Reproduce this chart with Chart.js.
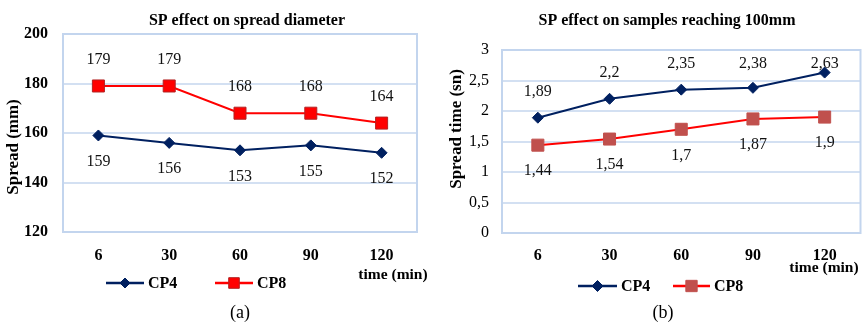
<!DOCTYPE html>
<html>
<head>
<meta charset="utf-8">
<script src="https://cdn.jsdelivr.net/npm/chart.js@4.4.0/dist/chart.umd.min.js"></script>
<style>
  html, body { margin: 0; padding: 0; background: #fff; overflow: hidden; }
  #wrap { position: relative; width: 863px; height: 324px; overflow: hidden; }
  .box { position: absolute; top: 0; height: 324px; }
  #boxA { left: 0; width: 430px; }
  #boxB { left: 430px; width: 440px; }
</style>
</head>
<body>
<div id="wrap">
  <div class="box" id="boxA"><canvas id="chartA" width="430" height="324"></canvas></div>
  <div class="box" id="boxB"><canvas id="chartB" width="440" height="324"></canvas></div>
</div>
<script>
// data
const times = ['6', '30', '60', '90', '120'];
const spreadCP4 = [159, 156, 153, 155, 152];
const spreadCP8 = [179, 179, 168, 168, 164];
const spreadTicks = [120, 140, 160, 180, 200];
const timeCP4 = [1.89, 2.2, 2.35, 2.38, 2.63];
const timeCP8 = [1.44, 1.54, 1.7, 1.87, 1.9];
const timeTicks = [0, 0.5, 1, 1.5, 2, 2.5, 3];

const FONT = "'Liberation Serif', 'Times New Roman', serif";
const NAVY = '#002060';
const RED = '#FF0000';
const GRID = '#D3E0F2';
const FRAME = '#C3D5EE';

const comma = v => String(v).replace('.', ',');

// title, axis titles, data labels, legend and caption
const extras = {
  id: 'extras',
  afterDatasetsDraw(chart, args, o) {
    const ctx = chart.ctx;
    const area = chart.chartArea;
    ctx.save();
    // plot frame
    ctx.strokeStyle = FRAME;
    ctx.lineWidth = 2;
    ctx.strokeRect(area.left, area.top, area.right - area.left, area.bottom - area.top);

    ctx.fillStyle = '#000';
    ctx.textAlign = 'center';
    ctx.textBaseline = 'middle';
    ctx.font = 'bold 16px ' + FONT;
    ctx.fillText(o.title, o.titleX, 21);

    ctx.save();
    ctx.translate(o.yTitleX, o.yTitleY);
    ctx.rotate(-Math.PI / 2);
    ctx.font = 'bold 17px ' + FONT;
    ctx.fillText(o.yTitle, 0, 0);
    ctx.restore();

    ctx.font = 'bold 15.5px ' + FONT;
    ctx.fillText('time (min)', o.xNoteX, o.xNoteY);

    ctx.font = '18px ' + FONT;
    ctx.fillText(o.caption, o.captionX, 313);

    // data labels
    ctx.font = '16px ' + FONT;
    ctx.fillStyle = '#111';
    chart.data.datasets.forEach((ds, i) => {
      const meta = chart.getDatasetMeta(i);
      meta.data.forEach((pt, j) => {
        let y = o.labelPos[i] === 'above' ? pt.y - 26 : pt.y + 26;
        if (o.labelPos[i] === 'above') y = Math.max(y, area.top + 14);
        ctx.fillText(o.fmt(ds.data[j]), pt.x, y);
      });
    });

    // legend: line + marker + name
    chart.data.datasets.forEach((ds, i) => {
      const it = o.legend[i];
      ctx.strokeStyle = ds.borderColor;
      ctx.lineWidth = 2.5;
      ctx.beginPath();
      ctx.moveTo(it.x0, o.legendY);
      ctx.lineTo(it.x1, o.legendY);
      ctx.stroke();
      ctx.fillStyle = ds.pointBackgroundColor;
      ctx.strokeStyle = ds.pointBorderColor;
      ctx.lineWidth = ds.pointBorderWidth;
      Chart.helpers.drawPoint(ctx, {
        pointStyle: ds.pointStyle, radius: it.r, rotation: 0, borderWidth: ds.pointBorderWidth
      }, (it.x0 + it.x1) / 2, o.legendY);
      ctx.fillStyle = '#000';
      ctx.textAlign = 'left';
      ctx.font = 'bold 16px ' + FONT;
      ctx.fillText(ds.label, it.x1 + 4, o.legendY + 1);
      ctx.textAlign = 'center';
    });
    ctx.restore();
  }
};

function makeChart(id, cfg) {
  return new Chart(document.getElementById(id), {
    type: 'line',
    data: {
      labels: times,
      datasets: [{
        label: 'CP4',
        data: cfg.a,
        borderColor: NAVY,
        borderWidth: 2,
        pointStyle: 'rectRot',
        pointRadius: 5.5,
        pointBackgroundColor: NAVY,
        pointBorderColor: NAVY,
        pointBorderWidth: 1
      }, {
        label: 'CP8',
        data: cfg.b,
        borderColor: RED,
        borderWidth: 2,
        pointStyle: 'rect',
        pointRadius: 8.5,
        pointBackgroundColor: cfg.markFill,
        pointBorderColor: cfg.markBorder,
        pointBorderWidth: 1
      }]
    },
    options: {
      responsive: false,
      animation: false,
      layout: { padding: { top: cfg.top, right: cfg.right, left: 0, bottom: 0 } },
      scales: {
        x: {
          offset: true,
          grid: { display: false, drawTicks: false },
          border: { display: false },
          ticks: { padding: cfg.xPad, color: '#000', font: { family: FONT, size: 16, weight: 'bold' } },
          afterFit: s => { s.height = cfg.xHeight; }
        },
        y: {
          min: cfg.ticks[0],
          max: cfg.ticks[cfg.ticks.length - 1],
          afterBuildTicks: s => { s.ticks = cfg.ticks.map(v => ({ value: v })); },
          grid: { color: GRID, lineWidth: 2, drawTicks: false },
          border: { display: false },
          ticks: {
            padding: cfg.yPad,
            color: '#000',
            font: { family: FONT, size: 16, weight: cfg.yBold ? 'bold' : 'normal' },
            callback: v => cfg.fmt(v)
          },
          afterFit: s => { s.width = cfg.yWidth; }
        }
      },
      plugins: {
        legend: { display: false },
        tooltip: { enabled: false },
        extras: cfg.extras
      }
    },
    plugins: [extras]
  });
}

makeChart('chartA', {
  a: spreadCP4, b: spreadCP8, ticks: spreadTicks,
  markFill: RED, markBorder: '#B22222',
  top: 34, right: 13, xHeight: 92, yWidth: 63, xPad: 14, yPad: 15, yBold: true,
  fmt: v => String(v),
  extras: {
    title: 'SP effect on spread diameter', titleX: 247,
    yTitle: 'Spread (mm)', yTitleX: 14, yTitleY: 147,
    xNoteX: 393, xNoteY: 275,
    caption: '(a)', captionX: 240,
    labelPos: ['below', 'above'],
    fmt: v => String(v),
    legendY: 283,
    legend: [{ x0: 106, x1: 144, r: 5 }, { x0: 215, x1: 253, r: 7.5 }]
  }
});

makeChart('chartB', {
  a: timeCP4, b: timeCP8, ticks: timeTicks,
  markFill: '#C0504D', markBorder: '#C0504D',
  top: 50, right: 1.5, xHeight: 91, yWidth: 72, xPad: 13, yPad: 13, yBold: false,
  fmt: comma,
  extras: {
    title: 'SP effect on samples reaching 100mm', titleX: 237,
    yTitle: 'Spread time (sn)', yTitleX: 27, yTitleY: 129,
    xNoteX: 394, xNoteY: 268,
    caption: '(b)', captionX: 233,
    labelPos: ['above', 'below'],
    fmt: comma,
    legendY: 286,
    legend: [{ x0: 148, x1: 187, r: 5.5 }, { x0: 243, x1: 280, r: 8 }]
  }
});
</script>
</body>
</html>
